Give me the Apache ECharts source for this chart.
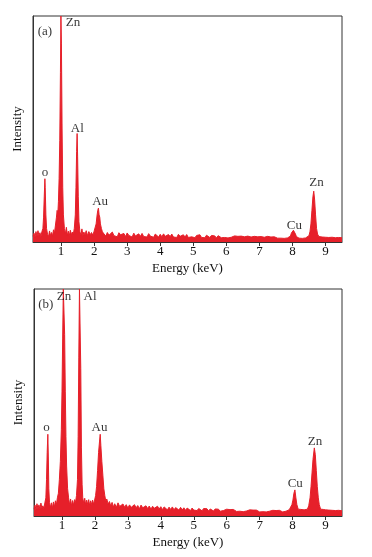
<!DOCTYPE html>
<html>
<head>
<meta charset="utf-8">
<script src="https://cdn.jsdelivr.net/npm/echarts@6/dist/echarts.min.js"></script>
<style>html,body{margin:0;padding:0;background:#fff;}#c{width:372px;height:557px;}</style>
</head>
<body>
<div id="c"></div>
<script>
// Tick labels (keV)
var tickValues = [1, 2, 3, 4, 5, 6, 7, 8, 9];

// Panel (a) spectrum: [energy keV, intensity %]
var spectrumA = [[0.15,2.5],[0.18,3.9],[0.21,2.2],[0.24,4.6],[0.27,2.6],[0.30,5.0],[0.33,2.9],[0.36,4.1],[0.39,2.4],[0.42,4.6],[0.45,6],[0.47,11],[0.49,20],[0.51,28],[0.52,24],[0.54,12],[0.56,6],[0.59,3.4],[0.62,2.4],[0.65,4.9],[0.68,2.8],[0.71,4.2],[0.74,2.6],[0.77,5.4],[0.80,4],[0.83,7.5],[0.86,11],[0.88,14],[0.90,12],[0.92,18],[0.94,28],[0.96,45],[0.98,75],[0.995,100],[1.01,88],[1.03,50],[1.05,24],[1.07,12],[1.10,6],[1.13,3.6],[1.16,6.5],[1.19,3],[1.22,4.8],[1.25,2.8],[1.28,5.2],[1.31,3.2],[1.34,4.4],[1.37,3.5],[1.40,6],[1.43,12],[1.45,24],[1.47,40],[1.485,48],[1.50,38],[1.52,20],[1.54,9],[1.57,4.5],[1.60,3],[1.63,5.8],[1.66,2.9],[1.69,4.4],[1.72,3],[1.76,5.0],[1.80,2.8],[1.84,4.6],[1.88,3.2],[1.92,4.2],[1.96,3],[2.00,4.8],[2.03,5.5],[2.06,8],[2.09,12],[2.11,14],[2.13,15],[2.15,12],[2.17,11],[2.19,8],[2.22,6],[2.25,4.5],[2.30,3.9],[2.35,2.6],[2.40,4.2],[2.45,3.0],[2.50,2.4],[2.55,4.4],[2.60,2.8],[2.65,3.6],[2.70,2.3],[2.75,4.1],[2.80,3.2],[2.85,2.5],[2.90,3.8],[2.95,2.4],[3.00,4.0],[3.05,2.9],[3.10,3.4],[3.15,2.2],[3.20,3.9],[3.25,2.7],[3.30,2.3],[3.35,3.6],[3.40,2.5],[3.45,3.8],[3.50,2.4],[3.55,3.1],[3.60,2.2],[3.65,3.7],[3.70,2.6],[3.75,3.3],[3.80,2.1],[3.85,3.5],[3.90,2.7],[3.95,2.2],[4.00,3.4],[4.05,2.3],[4.10,3.6],[4.15,2.5],[4.20,2.1],[4.25,3.3],[4.30,2.4],[4.35,3.5],[4.40,2.2],[4.45,2.9],[4.50,2.0],[4.55,3.4],[4.60,2.5],[4.65,2.1],[4.70,3.2],[4.75,2.2],[4.80,3.3],[4.85,2.0],[4.90,2.8],[4.95,2.3],[5.00,3.1],[5.05,1.9],[5.10,2.9],[5.15,2.2],[5.20,3.2],[5.25,2.0],[5.30,2.6],[5.35,1.9],[5.40,3.0],[5.45,2.3],[5.50,2.0],[5.55,2.9],[5.60,2.1],[5.65,2.7],[5.70,1.8],[5.75,2.8],[5.80,2.2],[5.85,1.9],[5.90,2.7],[5.95,2.0],[6.00,2.8],[6.05,1.8],[6.10,2.5],[6.15,2.1],[6.20,1.8],[6.25,2.7],[6.30,1.9],[6.35,2.5],[6.40,1.7],[6.45,2.6],[6.50,2.0],[6.55,2.3],[6.60,1.7],[6.65,2.6],[6.70,1.9],[6.75,2.2],[6.80,1.7],[6.85,2.5],[6.90,1.8],[6.95,2.3],[7.00,1.6],[7.05,2.4],[7.10,1.9],[7.15,2.1],[7.20,1.6],[7.25,2.5],[7.30,1.8],[7.35,2.2],[7.40,1.6],[7.45,2.3],[7.50,1.9],[7.55,1.7],[7.60,2.4],[7.65,1.7],[7.70,2.2],[7.75,1.6],[7.80,2.3],[7.85,1.8],[7.90,2.3],[7.94,2.6],[7.97,4],[8.00,4.8],[8.03,5.2],[8.06,4.4],[8.09,3.6],[8.12,2.4],[8.16,2.2],[8.20,1.7],[8.25,2.3],[8.30,1.6],[8.35,2.1],[8.40,1.8],[8.45,2.3],[8.50,2.8],[8.53,4.5],[8.56,8],[8.59,14],[8.62,20],[8.645,22.5],[8.67,19],[8.70,12],[8.73,6],[8.76,3.5],[8.80,2.4],[8.85,1.7],[8.90,2.2],[8.95,1.6],[9.00,2.1],[9.05,1.6],[9.10,2.0],[9.15,1.5],[9.20,2.1],[9.25,1.6],[9.30,1.9],[9.35,1.5],[9.40,2.0],[9.45,1.6],[9.50,1.9]];

// Panel (b) spectrum: [energy keV, intensity %]
var spectrumB = [[0.15,3],[0.18,4.8],[0.21,2.8],[0.24,5.4],[0.27,3.2],[0.30,4.9],[0.33,3],[0.36,5.7],[0.39,3.4],[0.42,4.5],[0.45,3.2],[0.48,5.8],[0.51,8],[0.53,16],[0.55,28],[0.57,36],[0.585,26],[0.60,12],[0.62,6],[0.65,3.8],[0.68,5.8],[0.71,3.5],[0.74,6.2],[0.77,4],[0.80,6.7],[0.83,5],[0.86,8],[0.89,10],[0.92,16],[0.95,24],[0.98,38],[1.00,55],[1.02,78],[1.04,100],[1.06,100],[1.08,80],[1.10,55],[1.12,35],[1.14,22],[1.17,12],[1.20,8],[1.23,5],[1.26,7.5],[1.29,4.5],[1.32,6.8],[1.35,4.8],[1.38,7.2],[1.41,6],[1.44,9],[1.47,16],[1.49,35],[1.51,70],[1.53,100],[1.55,100],[1.57,65],[1.59,30],[1.61,14],[1.63,8],[1.66,5.5],[1.69,7.8],[1.72,4.8],[1.75,7],[1.78,5],[1.81,7.2],[1.84,4.6],[1.87,6.7],[1.90,5],[1.93,7],[1.96,5.2],[1.99,7],[2.02,9],[2.05,13],[2.08,20],[2.11,28],[2.14,33],[2.16,36],[2.18,31],[2.21,24],[2.24,18],[2.27,12],[2.30,9],[2.33,6.5],[2.36,7.5],[2.40,5.2],[2.44,6.4],[2.48,4.4],[2.52,6.0],[2.56,4.0],[2.60,5.4],[2.65,3.8],[2.70,5.8],[2.75,4.2],[2.80,3.6],[2.85,5.3],[2.90,3.9],[2.95,5.0],[3.00,3.5],[3.05,4.9],[3.10,3.8],[3.15,3.3],[3.20,5.0],[3.25,3.6],[3.30,4.6],[3.35,3.2],[3.40,4.8],[3.45,3.6],[3.50,3.1],[3.55,4.5],[3.60,3.3],[3.65,4.4],[3.70,3.0],[3.75,4.3],[3.80,3.4],[3.85,2.9],[3.90,4.3],[3.95,3.1],[4.00,4.1],[4.05,2.8],[4.10,4.0],[4.15,3.2],[4.20,2.7],[4.25,3.9],[4.30,2.9],[4.35,4.0],[4.40,2.7],[4.45,3.7],[4.50,2.9],[4.55,2.6],[4.60,3.8],[4.65,2.7],[4.70,3.6],[4.75,2.5],[4.80,3.5],[4.85,2.8],[4.90,2.4],[4.95,3.5],[5.00,2.6],[5.05,3.4],[5.10,2.4],[5.15,3.3],[5.20,2.7],[5.25,2.3],[5.30,3.3],[5.35,2.5],[5.40,3.2],[5.45,2.2],[5.50,3.1],[5.55,2.5],[5.60,2.2],[5.65,3.1],[5.70,2.3],[5.75,3.0],[5.80,2.1],[5.85,2.9],[5.90,2.4],[5.95,2.1],[6.00,3.0],[6.05,2.2],[6.10,2.8],[6.15,2.0],[6.20,2.9],[6.25,2.3],[6.30,2.0],[6.35,2.8],[6.40,2.1],[6.45,2.7],[6.50,1.9],[6.55,2.7],[6.60,2.2],[6.65,1.9],[6.70,2.7],[6.75,2.0],[6.80,2.6],[6.85,1.9],[6.90,2.6],[6.95,2.1],[7.00,1.8],[7.05,2.6],[7.10,1.9],[7.15,2.5],[7.20,1.8],[7.25,2.6],[7.30,2.1],[7.35,1.8],[7.40,2.5],[7.45,1.9],[7.50,2.4],[7.55,1.8],[7.60,2.5],[7.65,2.0],[7.70,1.8],[7.75,2.5],[7.80,2.1],[7.85,2.4],[7.90,2.8],[7.94,3.5],[7.98,5],[8.01,7],[8.04,10],[8.07,11.5],[8.10,8],[8.13,5],[8.17,3],[8.21,2.4],[8.25,2.9],[8.30,2.2],[8.35,2.7],[8.40,2.3],[8.45,3],[8.49,4.5],[8.53,8],[8.56,13],[8.59,19],[8.62,25],[8.66,30],[8.69,27],[8.72,20],[8.75,13],[8.78,8],[8.81,5],[8.85,3],[8.89,2.4],[8.93,2.9],[8.97,2.2],[9.00,2.7],[9.05,2.1],[9.10,2.6],[9.15,2],[9.20,2.5],[9.25,2],[9.30,2.4],[9.35,1.9],[9.40,2.5],[9.45,2],[9.50,2.3]];

// Annotations: [energy, intensity, text]
var labelsA = [[0.51,93,'(a)'],[1.36,97,'Zn'],[1.49,50.4,'Al'],[0.51,30.5,'o'],[2.18,17.7,'Au'],[8.06,7.1,'Cu'],[8.73,26.1,'Zn']];
var labelsB = [[0.51,93,'(b)'],[1.06,96.5,'Zn'],[1.85,96.5,'Al'],[0.53,38.8,'o'],[2.14,38.8,'Au'],[8.08,14.5,'Cu'],[8.68,32.6,'Zn']];

var RED = '#e6202a';
var FONT = 'Liberation Serif';

function xAxisCfg(i) {
  return {
    gridIndex: i, type: 'value', min: 0.15, max: 9.5,
    axisLine: { show: true, lineStyle: { color: '#333', width: 1 } },
    axisTick: { show: true, customValues: tickValues, length: 4, lineStyle: { color: '#333' } },
    axisLabel: { customValues: tickValues, fontFamily: FONT, fontSize: 13, color: '#111', margin: 3 },
    splitLine: { show: false },
    name: 'Energy (keV)', nameLocation: 'middle', nameGap: 20,
    nameTextStyle: { fontFamily: FONT, fontSize: 13, color: '#111' }
  };
}
function yAxisCfg(i) {
  return {
    gridIndex: i, type: 'value', min: 0, max: 100,
    axisLine: { show: true, lineStyle: { color: '#333', width: 1 } },
    axisTick: { show: false }, axisLabel: { show: false }, splitLine: { show: false },
    name: 'Intensity', nameLocation: 'middle', nameGap: 9,
    nameTextStyle: { fontFamily: FONT, fontSize: 13, color: '#111' }
  };
}
function specSeries(i, data) {
  return {
    type: 'line', xAxisIndex: i, yAxisIndex: i, data: data,
    showSymbol: false, symbol: 'none', clip: true,
    lineStyle: { color: RED, width: 1 },
    areaStyle: { color: RED, opacity: 1 },
    silent: true
  };
}
function labelSeries(i, arr) {
  return {
    type: 'scatter', xAxisIndex: i, yAxisIndex: i, symbolSize: 0,
    data: arr.map(function (d) { return { value: [d[0], d[1]], name: d[2] }; }),
    label: { show: true, position: 'inside', formatter: '{b}', fontFamily: FONT, fontSize: 13, color: '#000' },
    silent: true, z: 5
  };
}

var chart = echarts.init(document.getElementById('c'), null, { renderer: 'canvas' });
chart.setOption({
  animation: false,
  backgroundColor: '#fff',
  grid: [
    { left: 33, top: 16, width: 309, height: 226, show: true, borderColor: '#333', borderWidth: 1 },
    { left: 34, top: 289, width: 308, height: 227, show: true, borderColor: '#333', borderWidth: 1 }
  ],
  xAxis: [xAxisCfg(0), xAxisCfg(1)],
  yAxis: [yAxisCfg(0), yAxisCfg(1)],
  series: [specSeries(0, spectrumA), specSeries(1, spectrumB), labelSeries(0, labelsA), labelSeries(1, labelsB)]
});
</script>
</body>
</html>
